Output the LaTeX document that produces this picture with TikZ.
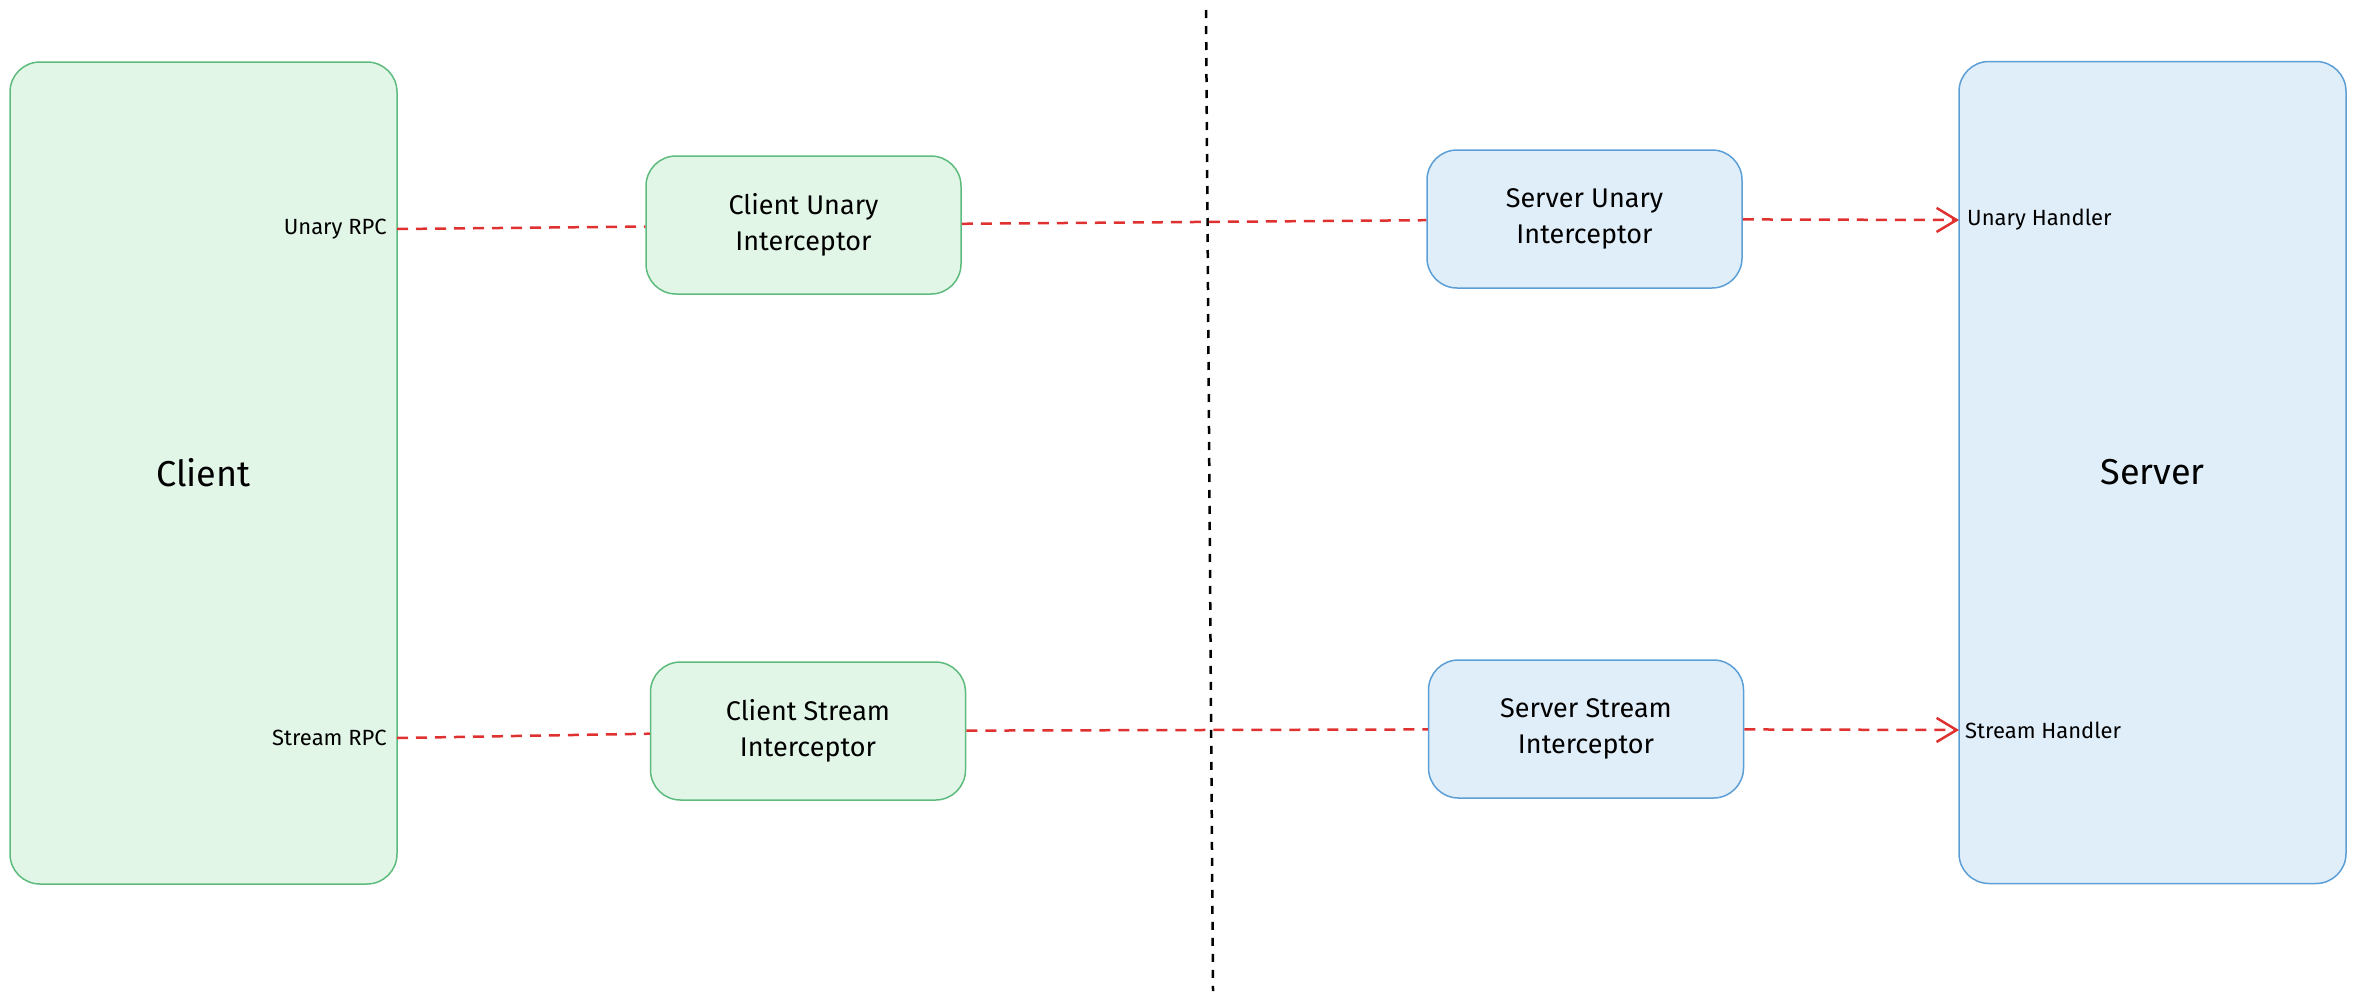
\documentclass[tikz,border=0pt]{standalone}
\usepackage{fontspec}
\setmainfont{Fira Sans}
\usetikzlibrary{arrows.meta,positioning}
\definecolor{clientline}{HTML}{5DBB7D}
\definecolor{clientfill}{HTML}{E2F6E8}
\definecolor{serverline}{HTML}{5C9FD6}
\definecolor{serverfill}{HTML}{E0EEF9}
\definecolor{callred}{HTML}{E03131}
\tikzstyle{sidebox} = [draw, rounded corners=30pt, line width=1.5pt, minimum width=387pt, minimum height=822pt, inner sep=0pt, font=\fontsize{36}{40}\selectfont]
\tikzstyle{clientside} = [sidebox, draw=clientline, fill=clientfill]
\tikzstyle{serverside} = [sidebox, draw=serverline, fill=serverfill]
\tikzstyle{interceptor} = [draw, rounded corners=30pt, line width=1.5pt, minimum width=315pt, minimum height=138pt, inner sep=0pt, align=center, font=\fontsize{27}{36}\selectfont]
\tikzstyle{clientint} = [interceptor, draw=clientline, fill=clientfill]
\tikzstyle{serverint} = [interceptor, draw=serverline, fill=serverfill]
\tikzstyle{port} = [inner sep=0pt, font=\fontsize{22}{26}\selectfont]
\tikzstyle{call} = [draw=callred, line width=2.5pt, dash pattern=on 11pt off 8pt]
\tikzstyle{divider} = [draw=black, line width=2.5pt, dash pattern=on 8pt off 8pt]

\begin{document}
\begin{tikzpicture}[x=1pt, y=-1pt, >={Straight Barb[length=20pt,width=24pt]}]
\useasboundingbox (0,0) rectangle (2355,1002);
% Nodes
	\node [clientside] (client) at (203.5,473) {Client};
	\node [serverside] (server) at (2152.5,472.5) {Server};
	\node [clientint] (cunary) at (803.5,225) {Client Unary\\Interceptor};
	\node [clientint, below of=cunary, node distance=506pt, xshift=4.5pt] (cstream) {Client Stream\\Interceptor};
	\node [serverint, right of=cunary, node distance=781pt, yshift=6pt] (sunary) {Server Unary\\Interceptor};
	\node [serverint, right of=cstream, node distance=778pt, yshift=2pt] (sstream) {Server Stream\\Interceptor};
	\coordinate (urpc) at (397,229);
	\coordinate (srpc) at (397,738);
	\coordinate (uhandler) at (1959,220);
	\coordinate (shandler) at (1959,730);
	\coordinate (divtop) at (1206,10);
	\coordinate (divbottom) at (1213,991);
% Connections
	\draw [divider] (divtop) -- (divbottom);
	\draw [call] (urpc) -- (cunary);
	\draw [call] (cunary) -- (sunary);
	\draw [call, ->] (sunary) -- (uhandler);
	\draw [call] (srpc) -- (cstream);
	\draw [call] (cstream) -- (sstream);
	\draw [call, ->] (sstream) -- (shandler);
% Notations
	\node [port, left=10pt of urpc] (urpclabel) {Unary RPC};
	\node [port, left=10pt of srpc] (srpclabel) {Stream RPC};
	\node [port, right=8pt of uhandler] (uhandlerlabel) {Unary Handler};
	\node [port, right=6pt of shandler] (shandlerlabel) {Stream Handler};
\end{tikzpicture}
\end{document}
